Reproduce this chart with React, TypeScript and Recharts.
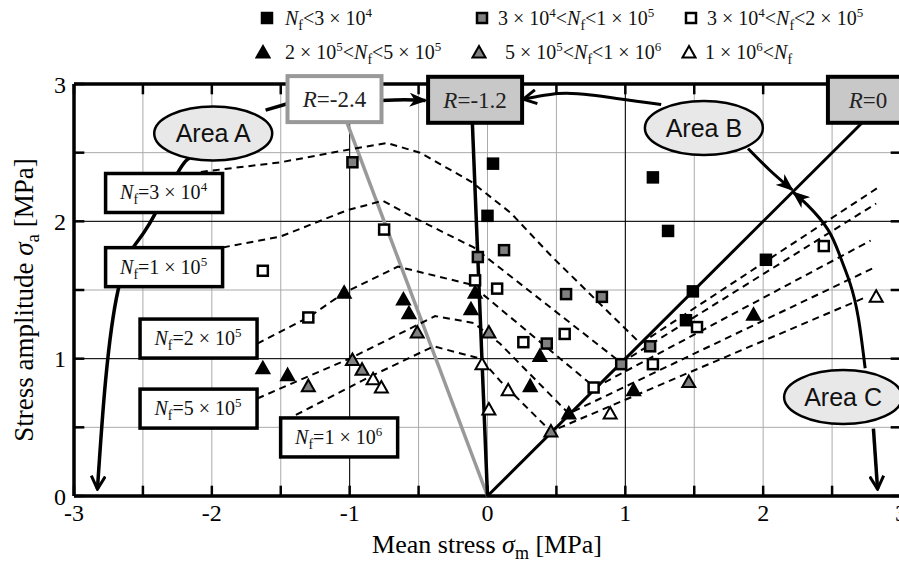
import React from "react";
import { ScatterChart, Scatter, XAxis, YAxis, CartesianGrid, ReferenceLine } from "recharts";

const SERIF = '"Liberation Serif", "Times New Roman", serif';
const SANS = '"Liberation Sans", Arial, sans-serif';

const X_TICKS = [-3, -2.5, -2, -1.5, -1, -0.5, 0, 0.5, 1, 1.5, 2, 2.5, 3];
const Y_TICKS = [0, 0.5, 1, 1.5, 2, 2.5, 3];
const DARK_X = [-1, 1];
const DARK_Y = [1, 2];

// test results: mean stress (x) vs stress amplitude (y), by fatigue life
const nfUnder3e4 = [
  { x: 0.04, y: 2.42 }, { x: 0.0, y: 2.04 }, { x: 1.2, y: 2.32 }, { x: 1.31, y: 1.93 },
  { x: 1.49, y: 1.49 }, { x: 1.44, y: 1.28 }, { x: 2.02, y: 1.72 },
];
const nf3e4to1e5 = [
  { x: -0.98, y: 2.43 }, { x: -0.07, y: 1.74 }, { x: 0.12, y: 1.79 }, { x: 0.57, y: 1.47 },
  { x: 0.83, y: 1.45 }, { x: 0.43, y: 1.11 }, { x: 1.18, y: 1.09 }, { x: 0.97, y: 0.96 },
];
const nf3e4to2e5 = [
  { x: -0.75, y: 1.94 }, { x: -1.63, y: 1.64 }, { x: -0.09, y: 1.57 }, { x: -1.3, y: 1.3 },
  { x: 0.07, y: 1.51 }, { x: 0.26, y: 1.12 }, { x: 0.56, y: 1.18 }, { x: 1.52, y: 1.23 },
  { x: 0.77, y: 0.79 }, { x: 2.44, y: 1.82 }, { x: 1.2, y: 0.96 },
];
const nf2e5to5e5 = [
  { x: -1.04, y: 1.48 }, { x: -0.61, y: 1.43 }, { x: -0.57, y: 1.33 }, { x: -0.12, y: 1.36 },
  { x: -0.09, y: 1.48 }, { x: -1.63, y: 0.93 }, { x: -1.45, y: 0.88 }, { x: 0.38, y: 1.02 },
  { x: 0.31, y: 0.8 }, { x: 0.59, y: 0.6 }, { x: 1.06, y: 0.77 }, { x: 1.93, y: 1.32 },
];
const nf5e5to1e6 = [
  { x: -0.51, y: 1.19 }, { x: 0.01, y: 1.19 }, { x: -0.98, y: 0.99 }, { x: -0.91, y: 0.92 },
  { x: -1.3, y: 0.8 }, { x: 0.46, y: 0.47 }, { x: 1.46, y: 0.83 },
];
const nfOver1e6 = [
  { x: -0.83, y: 0.85 }, { x: -0.77, y: 0.79 }, { x: -0.04, y: 0.96 }, { x: 0.01, y: 0.63 },
  { x: 0.15, y: 0.77 }, { x: 0.89, y: 0.6 }, { x: 2.82, y: 1.45 },
];

// constant-life curves (dashed)
const life3e4 = [
  { x: -2.08, y: 2.36 }, { x: -1.5, y: 2.43 }, { x: -1.02, y: 2.52 }, { x: -0.73, y: 2.57 },
  { x: -0.49, y: 2.5 }, { x: -0.12, y: 2.29 }, { x: 0.17, y: 2.06 }, { x: 0.47, y: 1.74 },
  { x: 1.11, y: 1.11 }, { x: 2.84, y: 2.25 },
];
const life1e5 = [
  { x: -1.92, y: 1.81 }, { x: -1.5, y: 1.89 }, { x: -1.02, y: 2.08 }, { x: -0.76, y: 2.15 },
  { x: -0.54, y: 2.03 }, { x: -0.1, y: 1.81 }, { x: 0.97, y: 0.97 }, { x: 2.82, y: 2.13 },
];
const life2e5 = [
  { x: -1.67, y: 1.11 }, { x: -1.3, y: 1.3 }, { x: -1.04, y: 1.48 }, { x: -0.65, y: 1.67 },
  { x: -0.12, y: 1.54 }, { x: 0.78, y: 0.79 }, { x: 2.78, y: 1.86 },
];
const life5e5 = [
  { x: -1.67, y: 0.71 }, { x: -0.98, y: 1.01 }, { x: -0.38, y: 1.31 }, { x: -0.1, y: 1.26 },
  { x: 0.09, y: 1.11 }, { x: 0.59, y: 0.6 }, { x: 2.82, y: 1.67 },
];
const life1e6 = [
  { x: -1.39, y: 0.59 }, { x: -0.85, y: 0.87 }, { x: -0.39, y: 1.09 }, { x: -0.05, y: 1.0 },
  { x: 0.09, y: 0.84 }, { x: 0.46, y: 0.47 }, { x: 2.75, y: 1.45 },
];

// stress ratio lines
const lineRm24 = [{ x: 0, y: 0 }, { x: -1.02, y: 2.72 }];
const lineRm12 = [{ x: 0, y: 0 }, { x: -0.11, y: 2.72 }];
const lineR0 = [{ x: 0, y: 0 }, { x: 2.72, y: 2.72 }];

// callout curves
const areaADown = [
  { x: -2.16, y: 2.46 }, { x: -2.25, y: 2.35 }, { x: -2.46, y: 1.97 }, { x: -2.57, y: 1.81 },
  { x: -2.68, y: 1.5 }, { x: -2.77, y: 0.85 }, { x: -2.83, y: 0.05 },
];
const areaAToBox = [{ x: -1.61, y: 2.81 }, { x: -1.44, y: 2.86 }];
const boxToBox = [{ x: -0.78, y: 2.88 }, { x: -0.6, y: 2.885 }, { x: -0.45, y: 2.88 }];
const areaBToBox = [{ x: 1.26, y: 2.85 }, { x: 0.75, y: 2.92 }, { x: 0.51, y: 2.93 }, { x: 0.26, y: 2.89 }];
const areaBDown = [{ x: 1.89, y: 2.53 }, { x: 2.05, y: 2.37 }, { x: 2.21, y: 2.23 }];
const areaCUp = [
  { x: 2.74, y: 0.93 }, { x: 2.69, y: 1.3 }, { x: 2.63, y: 1.55 }, { x: 2.56, y: 1.74 },
  { x: 2.47, y: 1.94 }, { x: 2.32, y: 2.12 }, { x: 2.22, y: 2.21 },
];
const areaCDown = [{ x: 2.8, y: 0.49 }, { x: 2.83, y: 0.05 }];

// label anchors
const R_POS = [{ x: -1.11, y: 2.89 }, { x: -0.09, y: 2.885 }, { x: 2.76, y: 2.885 }];
const R_TEXT = ["-2.4", "-1.2", "0"];
const LIFE_POS = [
  { x: -2.35, y: 2.21 }, { x: -2.35, y: 1.67 }, { x: -2.1, y: 1.15 },
  { x: -2.1, y: 0.64 }, { x: -1.08, y: 0.43 },
];
const LIFE_MANT = ["3", "1", "2", "5", "1"];
const LIFE_EXP = ["4", "5", "5", "5", "6"];
const AREA_POS = [{ x: -1.99, y: 2.64 }, { x: 1.57, y: 2.68 }, { x: 2.58, y: 0.72 }];
const AREA_NAME = ["A", "B", "C"];

const noShape = () => <g />;

const square = (fill: string) => (p: any) => (
  <rect x={p.cx - 5} y={p.cy - 5} width={10} height={10} fill={fill} stroke="#000" strokeWidth={2.5} />
);
const triangle = (fill: string) => (p: any) => (
  <polygon
    points={`${p.cx},${p.cy - 6.5} ${p.cx + 6.5},${p.cy + 5} ${p.cx - 6.5},${p.cy + 5}`}
    fill={fill} stroke="#000" strokeWidth={2} strokeLinejoin="miter"
  />
);

function path(key: string, data: any[], stroke: string, width: number, opts: any = {}) {
  return (
    <Scatter
      key={key}
      data={data}
      isAnimationActive={false}
      shape={noShape}
      legendType="none"
      lineJointType={opts.curve || "linear"}
      line={{
        stroke, strokeWidth: width, fill: "none",
        strokeDasharray: opts.dash,
        markerEnd: opts.marker ? `url(#${opts.marker})` : undefined,
      }}
    />
  );
}

const RBox = ({ cx, cy, w, fill, stroke, value }: any) => (
  <g>
    <rect x={cx - w / 2} y={cy - 23} width={w} height={46} fill={fill} stroke={stroke} strokeWidth={4} />
    <text x={cx} y={cy + 8} textAnchor="middle" fontFamily={SERIF} fontSize={23} fill="#222">
      <tspan fontStyle="italic">R</tspan>={value}
    </text>
  </g>
);

const LifeBox = ({ cx, cy, m, e }: any) => (
  <g>
    <rect x={cx - 58} y={cy - 19} width={117} height={39} fill="#fff" stroke="#000" strokeWidth={3.5} />
    <text x={cx} y={cy + 7} textAnchor="middle" fontFamily={SERIF} fontSize={20} fill="#111">
      <tspan fontStyle="italic">N</tspan>
      <tspan fontSize={14} dy={5}>f</tspan>
      <tspan dy={-5}>={m} × 10</tspan>
      <tspan fontSize={13} dy={-8}>{e}</tspan>
    </text>
  </g>
);

const AreaBubble = ({ cx, cy, name }: any) => (
  <g>
    <ellipse cx={cx} cy={cy} rx={59} ry={27} fill="#e8e8e8" stroke="#000" strokeWidth={2.5} />
    <text x={cx} y={cy + 9} textAnchor="middle" fontFamily={SANS} fontSize={25} fill="#111">
      Area {name}
    </text>
  </g>
);

const Sup = ({ c }: any) => <span style={{ fontSize: 13, position: "relative", top: -8 }}>{c}</span>;
const Sub = ({ c }: any) => <span style={{ fontSize: 14, position: "relative", top: 5 }}>{c}</span>;
const Nf = () => (<><i>N</i><Sub c="f" /></>);
const Pow = ({ m, e }: any) => (<>{m} × 10<Sup c={e} /></>);

const LegendSym = ({ kind, fill }: any) => (
  <svg width={16} height={16} style={{ position: "absolute", left: -8, top: -8 }}>
    {kind === "sq"
      ? <rect x={3} y={3} width={10} height={10} fill={fill} stroke="#000" strokeWidth={2.5} />
      : <polygon points="8,2 14.5,13.5 1.5,13.5" fill={fill} stroke="#000" strokeWidth={2} />}
  </svg>
);

const legendItems = [
  { sx: 267, tx: 285, y: 18, kind: "sq", fill: "#000", label: <><Nf />&lt;<Pow m="3" e="4" /></> },
  { sx: 482, tx: 498, y: 18, kind: "sq", fill: "#808080", label: <><Pow m="3" e="4" />&lt;<Nf />&lt;<Pow m="1" e="5" /></> },
  { sx: 691, tx: 707, y: 18, kind: "sq", fill: "#fff", label: <><Pow m="3" e="4" />&lt;<Nf />&lt;<Pow m="2" e="5" /></> },
  { sx: 263, tx: 285, y: 52, kind: "tri", fill: "#000", label: <><Pow m="2" e="5" />&lt;<Nf />&lt;<Pow m="5" e="5" /></> },
  { sx: 479, tx: 505, y: 52, kind: "tri", fill: "#808080", label: <><Pow m="5" e="5" />&lt;<Nf />&lt;<Pow m="1" e="6" /></> },
  { sx: 689, tx: 705, y: 52, kind: "tri", fill: "#fff", label: <><Pow m="1" e="6" />&lt;<Nf /></> },
];

const fmt = (v: number) => (Number.isInteger(v) ? String(v) : "");
const TK = 0.075;

export default function App() {
  return (
    <div style={{ position: "absolute", left: 0, top: 0, width: 899, height: 562, overflow: "hidden", background: "#fff", fontFamily: SERIF }}>
      <ScatterChart width={910} height={562} margin={{ top: 84, right: 9, bottom: 36, left: 24 }}>
        <defs>
          <marker id="barb" viewBox="0 0 18 14" refX="16" refY="7" markerWidth="18" markerHeight="14" markerUnits="userSpaceOnUse" orient="auto">
            <path d="M0,0 L18,7 L0,14 L5,7 Z" fill="#000" />
          </marker>
          <marker id="chev" viewBox="0 0 16 16" refX="14" refY="8" markerWidth="16" markerHeight="16" markerUnits="userSpaceOnUse" orient="auto">
            <path d="M1,1 L14,8 L1,15" fill="none" stroke="#000" strokeWidth="3" />
          </marker>
        </defs>
        <CartesianGrid stroke="#aaa" strokeWidth={1} />
        <XAxis
          type="number" dataKey="x" domain={[-3, 3]} ticks={X_TICKS} interval={0}
          tickFormatter={fmt} axisLine={false} tickLine={false} height={30}
          tick={{ fill: "#000", fontSize: 24, fontFamily: SERIF }}
        />
        <YAxis
          type="number" dataKey="y" domain={[0, 3]} ticks={Y_TICKS} interval={0}
          tickFormatter={fmt} axisLine={false} tickLine={false} width={50}
          tick={{ fill: "#000", fontSize: 24, fontFamily: SERIF }}
        />
        {DARK_X.map(v => <ReferenceLine key={"dx" + v} x={v} stroke="#000" strokeWidth={1} />)}
        {DARK_Y.map(v => <ReferenceLine key={"dy" + v} y={v} stroke="#000" strokeWidth={1} />)}

        {path("rm24", lineRm24, "#999", 3.5)}
        {path("rm12", lineRm12, "#000", 3.5)}
        {path("r0", lineR0, "#000", 3)}

        {path("l1", life3e4, "#000", 2, { dash: "7 5" })}
        {path("l2", life1e5, "#000", 2, { dash: "7 5" })}
        {path("l3", life2e5, "#000", 2, { dash: "7 5" })}
        {path("l4", life5e5, "#000", 2, { dash: "7 5" })}
        {path("l5", life1e6, "#000", 2, { dash: "7 5" })}

        {path("aDown", areaADown, "#000", 3.5, { curve: "natural", marker: "chev" })}
        {path("aBox", areaAToBox, "#000", 3.5)}
        {path("boxBox", boxToBox, "#000", 3.5, { curve: "natural", marker: "barb" })}
        {path("bBox", areaBToBox, "#000", 3, { curve: "natural", marker: "chev" })}
        {path("bDown", areaBDown, "#000", 3, { curve: "natural", marker: "barb" })}
        {path("cUp", areaCUp, "#000", 3, { curve: "natural", marker: "barb" })}
        {path("cDown", areaCDown, "#000", 3.5, { marker: "chev" })}

        <Scatter data={nfUnder3e4} shape={square("#000")} isAnimationActive={false} />
        <Scatter data={nf3e4to1e5} shape={square("#808080")} isAnimationActive={false} />
        <Scatter data={nf3e4to2e5} shape={square("#fff")} isAnimationActive={false} />
        <Scatter data={nf2e5to5e5} shape={triangle("#000")} isAnimationActive={false} />
        <Scatter data={nf5e5to1e6} shape={triangle("#808080")} isAnimationActive={false} />
        <Scatter data={nfOver1e6} shape={triangle("#fff")} isAnimationActive={false} />

        {LIFE_POS.map((p, i) => (
          <Scatter key={"life" + i} data={[p]} isAnimationActive={false}
            shape={(s: any) => <LifeBox cx={s.cx} cy={s.cy} m={LIFE_MANT[i]} e={LIFE_EXP[i]} />} />
        ))}
        <Scatter data={[R_POS[0]]} isAnimationActive={false}
          shape={(s: any) => <RBox cx={s.cx} cy={s.cy} w={94} fill="#fff" stroke="#999" value={R_TEXT[0]} />} />
        <Scatter data={[R_POS[1]]} isAnimationActive={false}
          shape={(s: any) => <RBox cx={s.cx} cy={s.cy} w={94} fill="#c8c8c8" stroke="#000" value={R_TEXT[1]} />} />
        <Scatter data={[R_POS[2]]} isAnimationActive={false}
          shape={(s: any) => <RBox cx={s.cx} cy={s.cy} w={80} fill="#c8c8c8" stroke="#000" value={R_TEXT[2]} />} />
        {AREA_POS.map((p, i) => (
          <Scatter key={"area" + i} data={[p]} isAnimationActive={false}
            shape={(s: any) => <AreaBubble cx={s.cx} cy={s.cy} name={AREA_NAME[i]} />} />
        ))}

        <ReferenceLine x={-3} stroke="#000" strokeWidth={3.5} />
        <ReferenceLine x={3} stroke="#000" strokeWidth={3.5} />
        <ReferenceLine y={0} stroke="#000" strokeWidth={3.5} />
        <ReferenceLine y={3} stroke="#000" strokeWidth={3.5} />
        {X_TICKS.map(v => (
          <ReferenceLine key={"tb" + v} segment={[{ x: v, y: 0 }, { x: v, y: TK }]} stroke="#000" strokeWidth={2.5} />
        ))}
        {X_TICKS.map(v => (
          <ReferenceLine key={"tt" + v} segment={[{ x: v, y: 3 }, { x: v, y: 3 - TK }]} stroke="#000" strokeWidth={2.5} />
        ))}
        {Y_TICKS.map(v => (
          <ReferenceLine key={"tl" + v} segment={[{ x: -3, y: v }, { x: -3 + TK, y: v }]} stroke="#000" strokeWidth={2.5} />
        ))}
        {Y_TICKS.map(v => (
          <ReferenceLine key={"tr" + v} segment={[{ x: 3, y: v }, { x: 3 - TK, y: v }]} stroke="#000" strokeWidth={2.5} />
        ))}
      </ScatterChart>

      {legendItems.map((it, i) => (
        <React.Fragment key={i}>
          <div style={{ position: "absolute", left: it.sx, top: it.y }}>
            <LegendSym kind={it.kind} fill={it.fill} />
          </div>
          <div style={{ position: "absolute", left: it.tx, top: it.y - 12, fontSize: 20, lineHeight: "24px", whiteSpace: "nowrap", color: "#111" }}>
            {it.label}
          </div>
        </React.Fragment>
      ))}

      <div style={{ position: "absolute", left: 287, width: 400, top: 530, textAlign: "center", fontSize: 26, whiteSpace: "nowrap" }}>
        Mean stress <i>σ</i><span style={{ fontSize: 18, position: "relative", top: 6 }}>m</span> [MPa]
      </div>
      <div style={{ position: "absolute", left: 24, top: 300, transform: "translate(-50%, -50%) rotate(-90deg)", fontSize: 27, whiteSpace: "nowrap" }}>
        Stress amplitude <i>σ</i><span style={{ fontSize: 19, position: "relative", top: 6 }}>a</span> [MPa]
      </div>
    </div>
  );
}
